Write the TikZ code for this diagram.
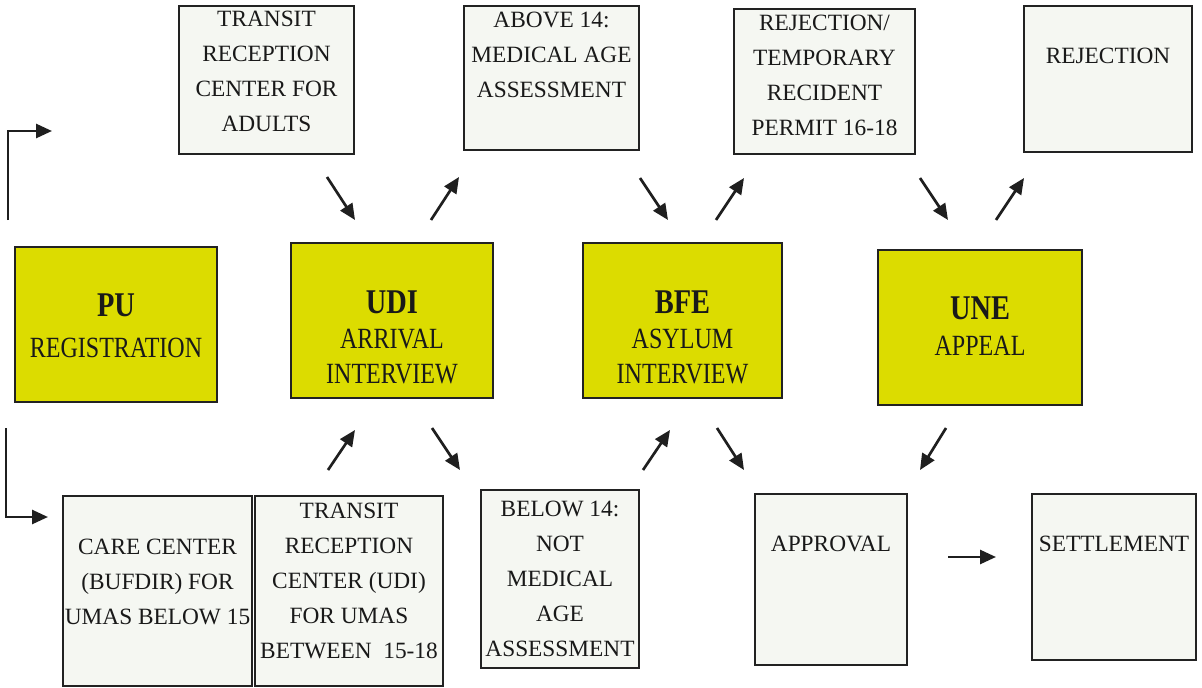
\documentclass[tikz,border=0pt]{standalone}
\usepackage{fontspec}
\setmainfont{Liberation Serif}
\newfontfamily\condfont[FakeStretch=0.82]{Liberation Serif}
\usetikzlibrary{arrows.meta,fit}
\definecolor{boxfill}{HTML}{F5F7F2}
\definecolor{ybox}{HTML}{DCDC00}
\definecolor{edge}{HTML}{222222}
\tikzset{
  box/.style={draw=edge, line width=2.2pt, fill=boxfill, inner sep=0pt},
  ybox/.style={draw=edge, line width=2.2pt, fill=ybox, inner sep=0pt},
  txt/.style={inner sep=0pt, align=center, text=black!90, font=\fontsize{17.5}{26.25}\selectfont},
  ttl/.style={inner sep=0pt, text=black!90, font=\condfont\bfseries\fontsize{26}{30}\selectfont},
  sub/.style={inner sep=0pt, align=center, text=black!90, font=\condfont\fontsize{22}{26.25}\selectfont},
  arr/.style={line width=2pt, draw=black!88, -{Triangle[length=12pt,width=10.5pt]}}
}
\begin{document}
\begin{tikzpicture}[x=0.75pt,y=-0.75pt]
\useasboundingbox (0,0) rectangle (1202,688);
% top row
\node[box, fit={(179,6)(354,154)}] (t1) {};
\node[txt] (t1l) at (266.5,71) {TRANSIT\\RECEPTION\\CENTER FOR\\ADULTS};
\node[box, fit={(464,6)(639,150)}] (t2) {};
\node[txt] (t2l) at (551.5,55) {ABOVE 14:\\MEDICAL AGE\\ASSESSMENT};
\node[box, fit={(734,9)(915,154)}] (t3) {};
\node[txt] (t3l) at (824.5,75) {REJECTION/\\TEMPORARY\\RECIDENT\\PERMIT 16-18};
\node[box, fit={(1024,6)(1192,152)}] (t4) {};
\node[txt] (t4l) at (1108,56) {REJECTION};
% middle row
\node[ybox, fit={(15,247)(217,402)}] (pu) {};
\node[ttl] (pul) at (116,305.5) {PU};
\node[sub] (pus) at (116,348) {REGISTRATION};
\node[ybox, fit={(291,243)(493,398)}] (udi) {};
\node[ttl] (udil) at (392,302) {UDI};
\node[sub] (udis) at (392,356.5) {ARRIVAL\\INTERVIEW};
\node[ybox, fit={(583,243)(782,398)}] (bfe) {};
\node[ttl] (bfel) at (682.5,302) {BFE};
\node[sub] (bfes) at (682.5,356.5) {ASYLUM\\INTERVIEW};
\node[ybox, fit={(878,250)(1082,405)}] (une) {};
\node[ttl] (unel) at (980,308) {UNE};
\node[sub] (unes) at (980,346) {APPEAL};
% bottom row
\node[box, fit={(63,496)(252,686)}] (b1) {};
\node[txt] (b1l) at (157.5,582) {CARE CENTER\\(BUFDIR) FOR\\UMAS BELOW 15};
\node[box, fit={(255,496)(443,686)}] (b2) {};
\node[txt] (b2l) at (349,581) {TRANSIT\\RECEPTION\\CENTER (UDI)\\FOR UMAS\\BETWEEN~~15-18};
\node[box, fit={(481,490)(639,668)}] (b3) {};
\node[txt] (b3l) at (560,578.5) {BELOW 14:\\NOT\\MEDICAL\\AGE\\ASSESSMENT};
\node[box, fit={(755,494)(907,665)}] (b4) {};
\node[txt] (b4l) at (831,544) {APPROVAL};
\node[box, fit={(1032,494)(1196,660)}] (b5) {};
\node[txt] (b5l) at (1114,544) {SETTLEMENT};
% arrow end points
\coordinate (e1s) at (8,220); \coordinate (e1e) at (52,131);
\coordinate (e2s) at (6,428); \coordinate (e2e) at (48,517);
\coordinate (a1s) at (327,177); \coordinate (a1e) at (355,220);
\coordinate (a2s) at (431,220); \coordinate (a2e) at (459,177);
\coordinate (a3s) at (640,178); \coordinate (a3e) at (668,220);
\coordinate (a4s) at (716,220); \coordinate (a4e) at (744,178);
\coordinate (a5s) at (920,178); \coordinate (a5e) at (948,220);
\coordinate (a6s) at (996,220); \coordinate (a6e) at (1024,178);
\coordinate (a7s) at (328,470); \coordinate (a7e) at (355,430);
\coordinate (a8s) at (432,428); \coordinate (a8e) at (460,470);
\coordinate (a9s) at (643,470); \coordinate (a9e) at (670,430);
\coordinate (a10s) at (717,428); \coordinate (a10e) at (744,470);
\coordinate (a11s) at (946,428); \coordinate (a11e) at (920,470);
\coordinate (a12s) at (948,557); \coordinate (a12e) at (996,557);
\draw[arr] (e1s) |- (e1e);
\draw[arr] (e2s) |- (e2e);
\foreach \i in {1,...,12} {\draw[arr] (a\i s) -- (a\i e);}
\end{tikzpicture}
\end{document}
